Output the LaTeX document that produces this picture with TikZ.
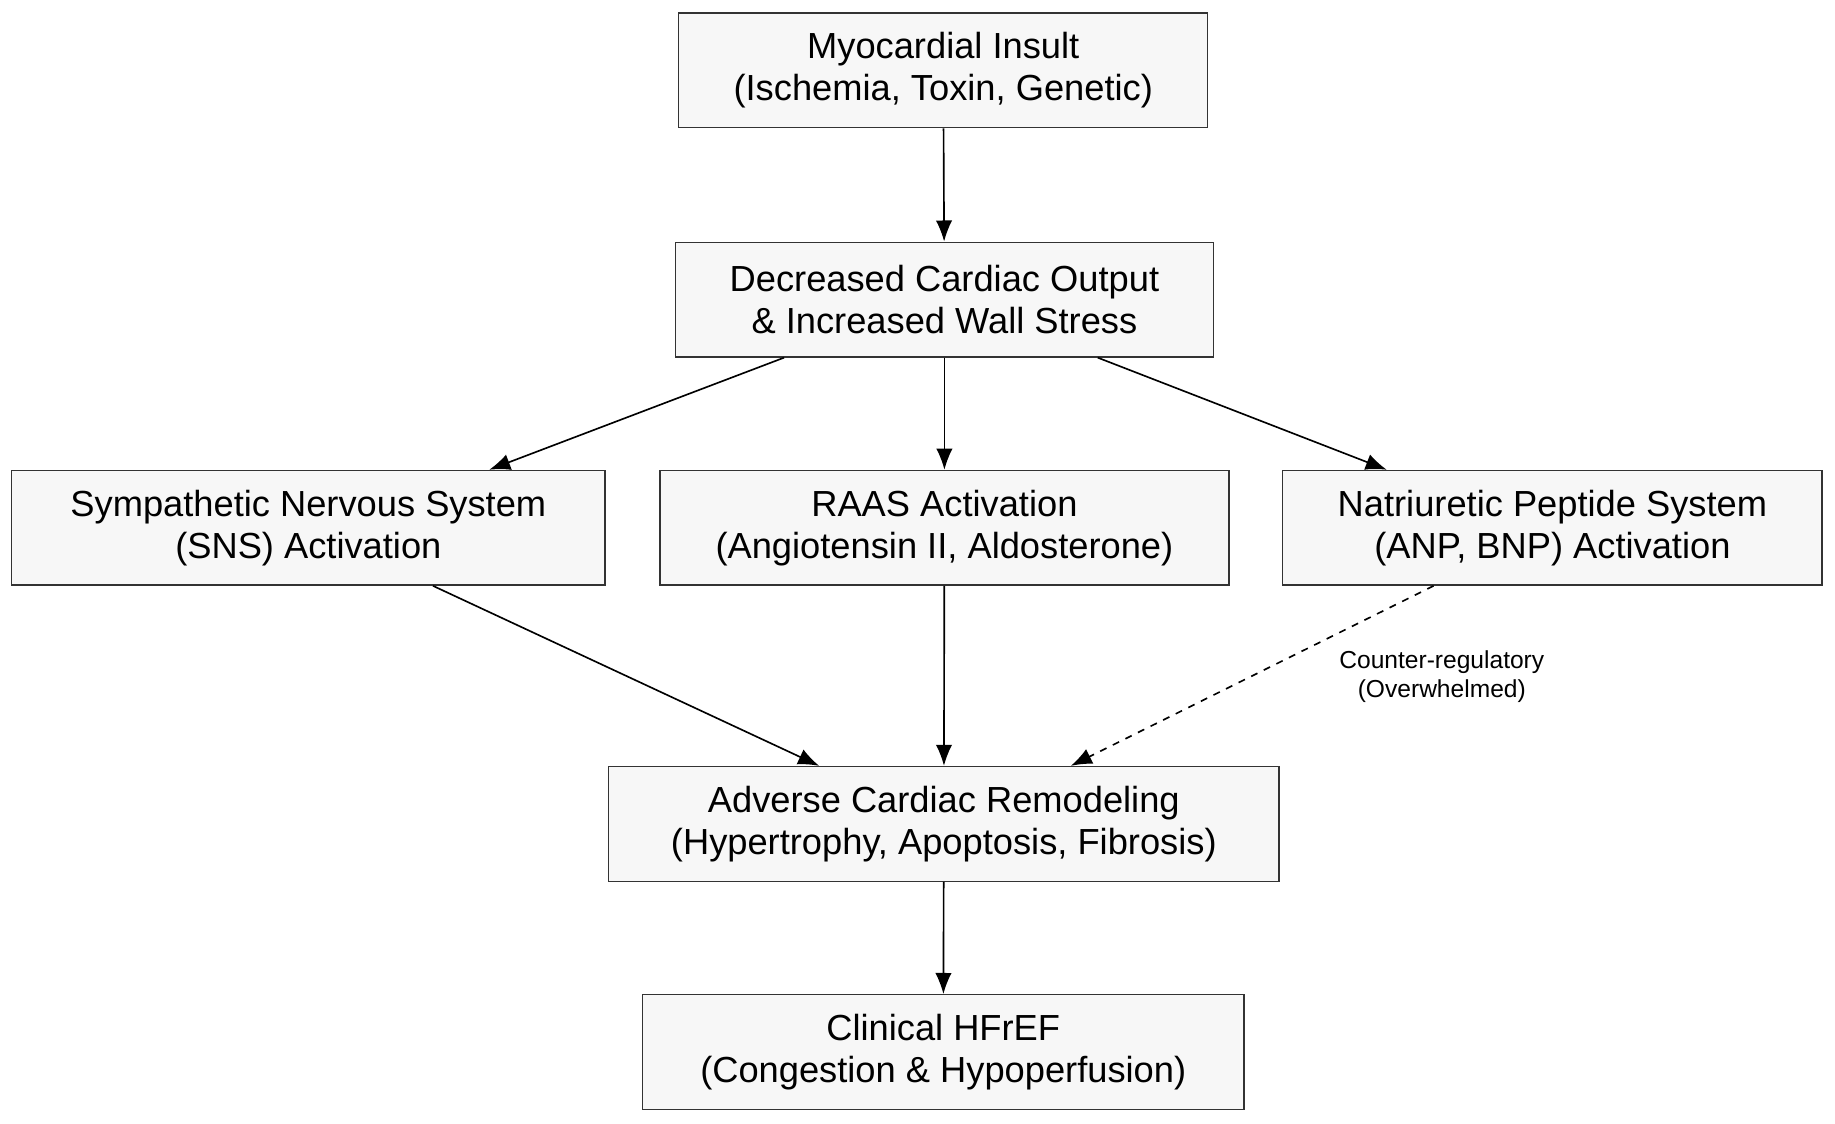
\documentclass[tikz,border=0pt]{standalone}
\usepackage{fontspec}
\setmainfont{Liberation Sans}
\usetikzlibrary{arrows.meta}
\begin{document}
\begin{tikzpicture}[x=0.5pt,y=-0.5pt,
  box/.style={draw=black!80,fill=black!3,line width=0.6pt,minimum height=49pt,align=center,font=\fontsize{15.5}{18}\selectfont,inner sep=0pt},
  arr/.style={-{Latex[length=9pt,width=7pt]},line width=0.7pt},
  lab/.style={font=\fontsize{10.5}{12.5}\selectfont,align=center}]
\useasboundingbox (0,0) rectangle (1568,960);
\node[box,minimum width=226pt] (mi) at (806,60) {Myocardial Insult\\(Ischemia, Toxin, Genetic)};
\node[box,minimum width=230pt] (dc) at (807,256) {Decreased Cardiac Output\\\& Increased Wall Stress};
\node[box,minimum width=253.5pt] (sns) at (263.5,451) {Sympathetic Nervous System\\(SNS) Activation};
\node[box,minimum width=243pt] (raas) at (807,451) {RAAS Activation\\(Angiotensin II, Aldosterone)};
\node[box,minimum width=230.5pt] (nps) at (1326.5,451) {Natriuretic Peptide System\\(ANP, BNP) Activation};
\node[box,minimum width=286.5pt] (acr) at (806.5,704) {Adverse Cardiac Remodeling\\(Hypertrophy, Apoptosis, Fibrosis)};
\node[box,minimum width=257pt] (hf) at (806,899) {Clinical HFrEF\\(Congestion \& Hypoperfusion)};
\draw[arr] (mi) -- (dc);
\draw[arr] (dc.south -| 670,0) -- (sns.north -| 418,0);
\draw[arr] (dc) -- (raas);
\draw[arr] (dc.south -| 938,0) -- (nps.north -| 1185,0);
\draw[arr] (sns.south -| 370,0) -- (acr.north -| 700,0);
\draw[arr] (raas) -- (acr);
\draw[arr,dashed] (nps.south -| 1225,0) -- (acr.north -| 915,0);
\node[lab] (cl) at (1232,578) {Counter-regulatory\\(Overwhelmed)};
\draw[arr] (acr) -- (hf);
\end{tikzpicture}
\end{document}
